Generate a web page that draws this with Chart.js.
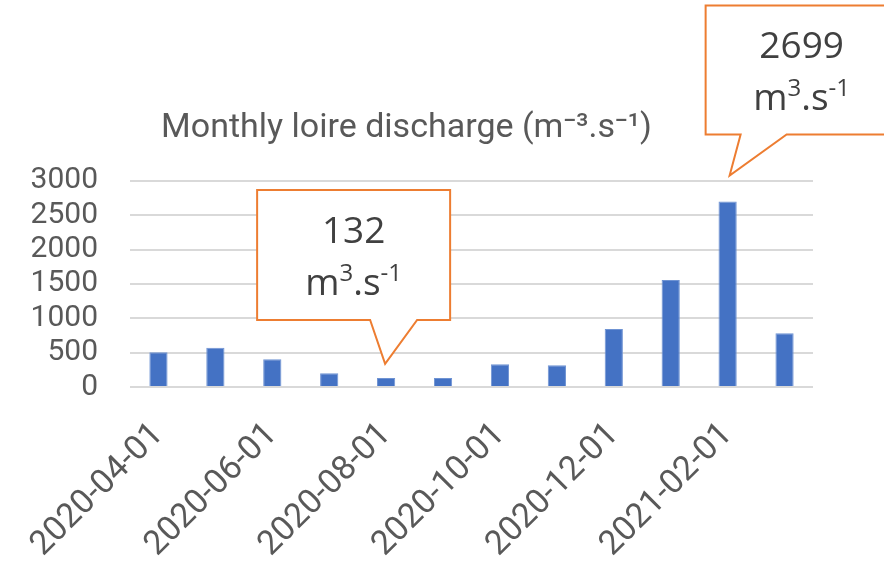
<!DOCTYPE html>
<html lang="en">
<head>
<meta charset="UTF-8">
<script src="https://cdn.jsdelivr.net/npm/chart.js"></script>
<title>Monthly loire discharge</title>
<style>
  * { margin: 0; padding: 0; }
  body { background: #fff; }
  .contenedor { width: 884px; height: 570px; }
</style>
</head>
<body>
<div class="contenedor">
  <canvas id="myChart" width="884" height="570"></canvas>
</div>
<script>
  // data
  const months = ['2020-04-01', '2020-05-01', '2020-06-01', '2020-07-01', '2020-08-01', '2020-09-01',
                  '2020-10-01', '2020-11-01', '2020-12-01', '2021-01-01', '2021-02-01', '2021-03-01'];
  const discharge = [505, 572, 403, 199, 132, 130, 330, 316, 844, 1557, 2699, 782];
  const yTicks = [0, 500, 1000, 1500, 2000, 2500, 3000];
  const titleText = 'Monthly loire discharge (m\u207B\u00B3.s\u207B\u00B9)';
  const calloutIndexes = [4, 10];

  const grey = '#595959';
  const orange = '#ed7d31';

  // callout shapes, relative to the top of the bar they point at
  const calloutShapes = {
    4: { gap: 14, tipDx: -1, left: -128, right: 65, top: -174, bottom: -44, base1: -15, base2: 32 },
    10: { gap: 26, tipDx: 2, left: -24, right: 168, top: -170, bottom: -41, base1: 11, base2: 57 }
  };

  // draws text with raised parts, parts = [[text, isSup], ...]
  function drawRich(ctx, parts, cx, baseY, size) {
    const big = size + 'px "Open Sans"';
    const small = Math.round(size * 0.64) + 'px "Open Sans"';
    let w = 0;
    parts.forEach(p => { ctx.font = p[1] ? small : big; w += ctx.measureText(p[0]).width; });
    let x = cx - w / 2;
    ctx.textBaseline = 'alphabetic';
    ctx.textAlign = 'left';
    parts.forEach(p => {
      ctx.font = p[1] ? small : big;
      ctx.fillText(p[0], x, p[1] ? baseY - size * 0.38 : baseY);
      x += ctx.measureText(p[0]).width;
    });
  }

  const calloutPlugin = {
    id: 'callouts',
    afterDraw(chart) {
      const ctx = chart.ctx;
      const xs = chart.scales.x, ys = chart.scales.y;
      calloutIndexes.forEach(i => {
        const s = calloutShapes[i];
        const tx = xs.getPixelForValue(i) + s.tipDx;
        const ty = ys.getPixelForValue(discharge[i]) - s.gap;
        ctx.save();
        ctx.beginPath();
        ctx.moveTo(tx + s.left, ty + s.top);
        ctx.lineTo(tx + s.right, ty + s.top);
        ctx.lineTo(tx + s.right, ty + s.bottom);
        ctx.lineTo(tx + s.base2, ty + s.bottom);
        ctx.lineTo(tx, ty);
        ctx.lineTo(tx + s.base1, ty + s.bottom);
        ctx.lineTo(tx + s.left, ty + s.bottom);
        ctx.closePath();
        ctx.fillStyle = '#fff';
        ctx.fill();
        ctx.strokeStyle = orange;
        ctx.lineWidth = 2;
        ctx.stroke();
        ctx.fillStyle = '#404040';
        const cx = tx + (s.left + s.right) / 2;
        const midY = ty + (s.top + s.bottom) / 2;
        drawRich(ctx, [[String(discharge[i]), false]], cx, midY - 12, 37);
        drawRich(ctx, [['m', false], ['3', true], ['.s', false], ['-1', true]], cx, midY + 40, 37);
        ctx.restore();
      });
    }
  };

  const ctx = document.getElementById('myChart').getContext('2d');
  const myChart = new Chart(ctx, {
    type: 'bar',
    data: {
      labels: months,
      datasets: [{
        label: 'Discharge',
        data: discharge,
        backgroundColor: '#4472c4',
        borderColor: '#6f93d3',
        borderWidth: 1,
        categoryPercentage: 1,
        barPercentage: 0.32
      }]
    },
    options: {
      responsive: false,
      animation: false,
      layout: { padding: { top: 0, left: 0, right: 71, bottom: 0 } },
      plugins: {
        legend: { display: false },
        tooltip: { enabled: false },
        title: {
          display: true,
          text: titleText,
          color: grey,
          font: { family: 'Roboto', size: 34, weight: 'normal' },
          padding: { top: 108, bottom: 32 }
        }
      },
      scales: {
        x: {
          grid: { display: false },
          border: { display: false },
          afterFit: scale => { scale.height = 183; },
          ticks: {
            color: grey,
            font: { family: 'Roboto', size: 34 },
            autoSkip: false,
            maxRotation: 45,
            minRotation: 45,
            padding: 20,
            callback: function (value, index) {
              return index % 2 === 0 ? months[index] : '';
            }
          }
        },
        y: {
          min: yTicks[0],
          max: yTicks[yTicks.length - 1],
          border: { display: false },
          grid: { color: '#d9d9d9', lineWidth: 2, drawTicks: false },
          afterFit: scale => { scale.width = 130; },
          ticks: {
            color: grey,
            font: { family: 'Roboto', size: 30 },
            padding: 32,
            stepSize: 500,
            autoSkip: false,
            callback: value => String(value)
          }
        }
      }
    },
    plugins: [calloutPlugin]
  });
</script>
</body>
</html>
